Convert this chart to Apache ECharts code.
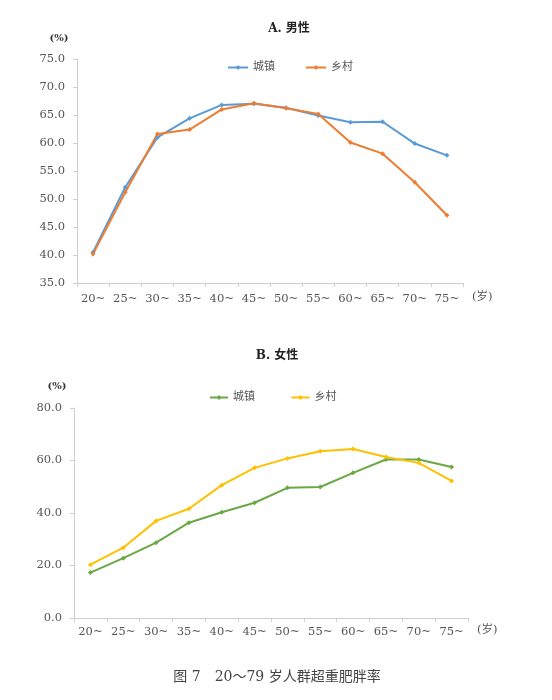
<!DOCTYPE html>
<html>
<head>
<meta charset="utf-8">
<script src="https://cdn.jsdelivr.net/npm/echarts@6/dist/echarts.min.js"></script>
<style>
  html, body { margin: 0; padding: 0; background: #fff; }
  #chart { width: 552px; height: 700px; }
</style>
</head>
<body>
<div id="chart"></div>
<script>
// 年龄组
var ageGroups = ["20~", "25~", "30~", "35~", "40~", "45~", "50~", "55~", "60~", "65~", "70~", "75~"];
// A. 男性
var maleUrban = [40.5, 52.1, 61.0, 64.4, 66.8, 67.0, 66.3, 64.9, 63.7, 63.8, 59.9, 57.8];
var maleRural = [40.2, 51.2, 61.6, 62.4, 66.0, 67.1, 66.2, 65.2, 60.1, 58.1, 53.0, 47.1];
// B. 女性
var femaleUrban = [17.3, 22.8, 28.7, 36.3, 40.3, 43.9, 49.6, 49.9, 55.3, 60.4, 60.4, 57.5];
var femaleRural = [20.3, 26.8, 37.0, 41.6, 50.6, 57.2, 60.8, 63.5, 64.4, 61.3, 59.1, 52.2];

var font = "'DejaVu Serif', 'Noto Sans CJK SC', serif";
var axisColor = "#cfcfcf";
var labelColor = "#555";

function xAxisOpt(gridIndex, margin) {
    return {
        type: "category",
        gridIndex: gridIndex,
        data: ageGroups,
        boundaryGap: true,
        name: "(岁)",
        nameLocation: "end",
        nameGap: 9,
        nameTextStyle: { fontFamily: font, fontSize: 11.5, color: labelColor, verticalAlign: "top", padding: [margin - 2, 0, 0, 0] },
        axisLine: { lineStyle: { color: axisColor } },
        axisTick: { show: true, alignWithLabel: false, length: 4, lineStyle: { color: axisColor } },
        axisLabel: { fontFamily: font, fontSize: 11.5, color: labelColor, margin: margin, interval: 0 },
        splitLine: { show: false }
    };
}

function yAxisOpt(gridIndex, min, max, interval) {
    return {
        type: "value",
        gridIndex: gridIndex,
        min: min,
        max: max,
        interval: interval,
        axisLine: { show: true, lineStyle: { color: axisColor } },
        axisTick: { show: true, length: 4, lineStyle: { color: axisColor } },
        axisLabel: {
            fontFamily: font, fontSize: 11.5, color: labelColor, margin: 12,
            formatter: function (v) { return v.toFixed(1); }
        },
        splitLine: { show: false }
    };
}

function lineSeries(name, data, color, idx) {
    return {
        name: name,
        type: "line",
        xAxisIndex: idx,
        yAxisIndex: idx,
        data: data,
        symbol: "diamond",
        symbolSize: 5,
        lineStyle: { width: 2, color: color },
        itemStyle: { color: color },
        animation: false
    };
}

var chart = echarts.init(document.getElementById("chart"));
chart.setOption({
    backgroundColor: "#fff",
    title: [{
        text: "A. 男性",
        left: 284, top: 18, textAlign: "center",
        textStyle: { fontFamily: font, fontSize: 12, fontWeight: "bold", color: "#222" }
    }, {
        text: "B. 女性",
        left: 272, top: 345, textAlign: "center",
        textStyle: { fontFamily: font, fontSize: 12, fontWeight: "bold", color: "#222" }
    }, {
        text: "(%)",
        left: 54, top: 28, textAlign: "center",
        textStyle: { fontFamily: font, fontSize: 10, fontWeight: "bold", color: "#333" }
    }, {
        text: "(%)",
        left: 52, top: 376, textAlign: "center",
        textStyle: { fontFamily: font, fontSize: 10, fontWeight: "bold", color: "#333" }
    }, {
        text: "图 7　20～79 岁人群超重肥胖率",
        left: 272, top: 665, textAlign: "center",
        textStyle: { fontFamily: font, fontSize: 14, fontWeight: "normal", color: "#444" }
    }],
    legend: [{
        data: ["城镇", "乡村"],
        left: 222, top: 57,
        itemGap: 30, itemWidth: 20, itemHeight: 6,
        textStyle: { fontFamily: font, fontSize: 11, color: labelColor }
    }, {
        data: ["城镇 ", "乡村 "],
        left: 204, top: 387,
        itemGap: 32, itemWidth: 18, itemHeight: 6,
        textStyle: { fontFamily: font, fontSize: 11, color: labelColor }
    }],
    grid: [
        { left: 77, top: 59, width: 386, height: 224 },
        { left: 74, top: 408, width: 394, height: 210 }
    ],
    xAxis: [xAxisOpt(0, 10), xAxisOpt(1, 8)],
    yAxis: [yAxisOpt(0, 35, 75, 5), yAxisOpt(1, 0, 80, 20)],
    series: [
        lineSeries("城镇", maleUrban, "#5b9bd5", 0),
        lineSeries("乡村", maleRural, "#ed7d31", 0),
        lineSeries("城镇 ", femaleUrban, "#6aa844", 1),
        lineSeries("乡村 ", femaleRural, "#ffc000", 1)
    ]
});
</script>
</body>
</html>
